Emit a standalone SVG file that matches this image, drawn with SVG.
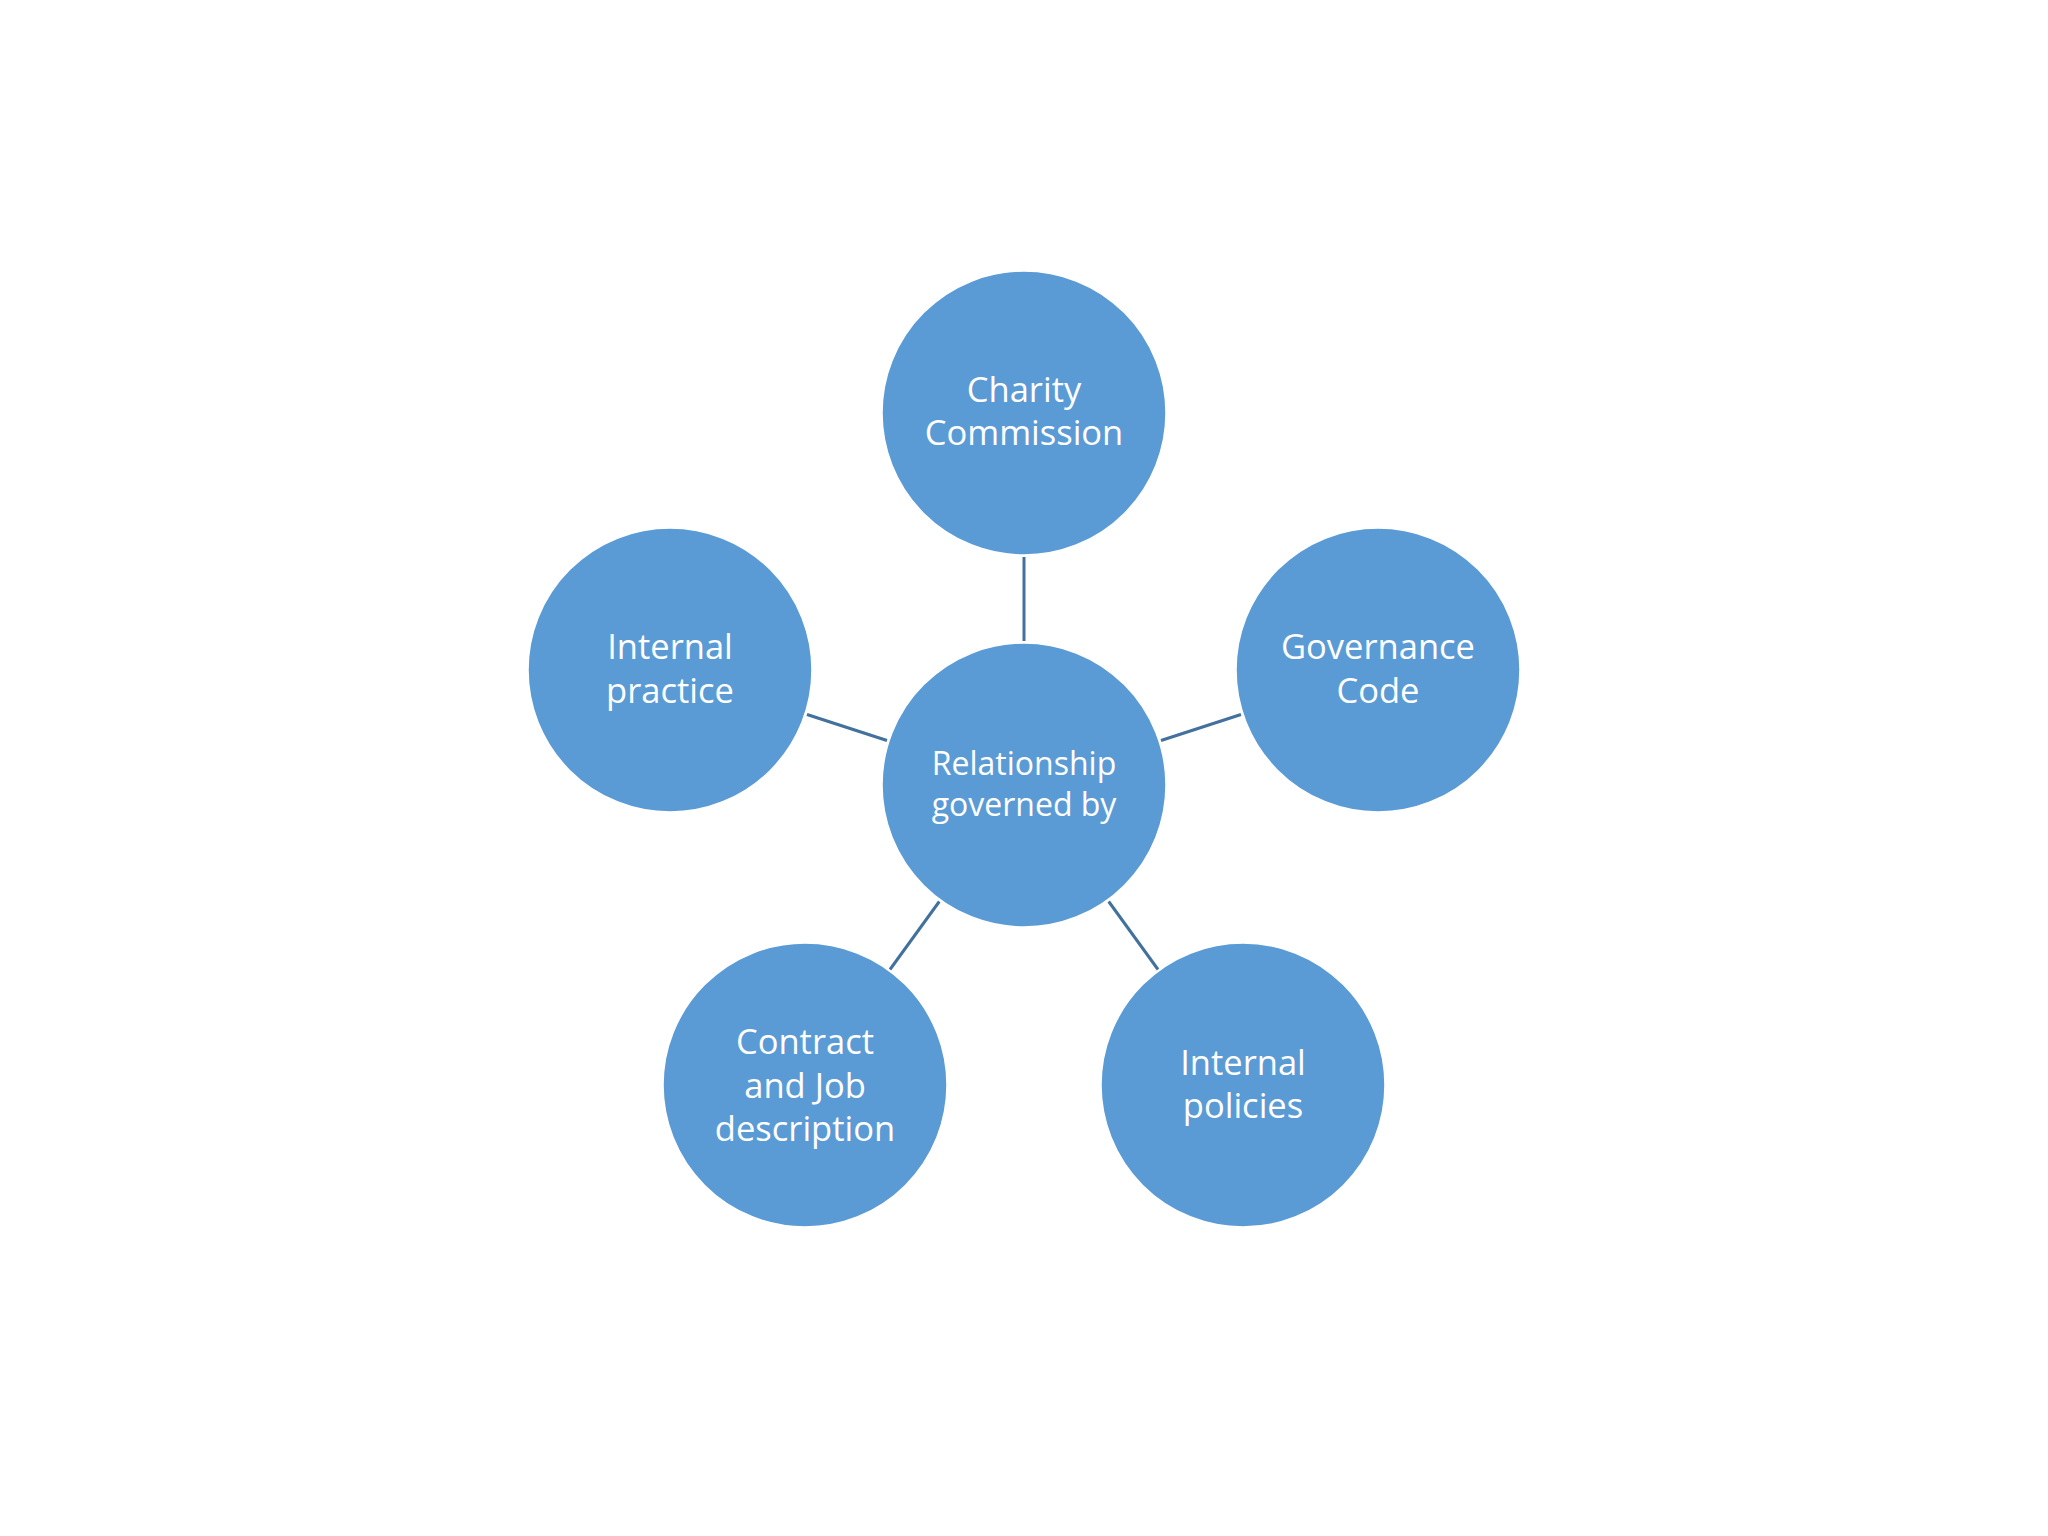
<svg xmlns="http://www.w3.org/2000/svg" width="2048" height="1536" viewBox="0 0 2048 1536">
<style>
.node circle{fill:#5B9BD5;stroke:#ffffff;stroke-width:1.5}
.node text{fill:#ffffff;font-family:"Open Sans","Noto Sans",sans-serif;font-size:34.5px;text-anchor:middle}
.node.center text{font-size:32px}
.conn line{stroke:#41719C;stroke-width:3}
</style>
<rect width="2048" height="1536" fill="#ffffff"/>
<g id="connectors" class="conn">
<line x1="1024" y1="557" x2="1024" y2="641"/>
<line x1="887" y1="740.5" x2="807" y2="714.5"/>
<line x1="1161" y1="740.5" x2="1241" y2="714.5"/>
<line x1="939.3" y1="901.5" x2="890" y2="969.5"/>
<line x1="1108.7" y1="901.5" x2="1158" y2="969.5"/>
</g>
<g id="node-center" class="node center">
<circle cx="1024" cy="785" r="142"/>
<text x="1024" y="775">Relationship</text>
<text x="1024" y="816">governed by</text>
</g>
<g id="node-charity" class="node">
<circle cx="1024" cy="413" r="142"/>
<text x="1024" y="402">Charity</text>
<text x="1024" y="445">Commission</text>
</g>
<g id="node-internal-practice" class="node">
<circle cx="670" cy="670" r="142"/>
<text x="670" y="659">Internal</text>
<text x="670" y="703">practice</text>
</g>
<g id="node-governance" class="node">
<circle cx="1378" cy="670" r="142"/>
<text x="1378" y="659">Governance</text>
<text x="1378" y="703">Code</text>
</g>
<g id="node-contract" class="node">
<circle cx="805" cy="1085" r="142"/>
<text x="805" y="1054">Contract</text>
<text x="805" y="1098">and Job</text>
<text x="805" y="1141">description</text>
</g>
<g id="node-policies" class="node">
<circle cx="1243" cy="1085" r="142"/>
<text x="1243" y="1075">Internal</text>
<text x="1243" y="1118">policies</text>
</g>
</svg>
